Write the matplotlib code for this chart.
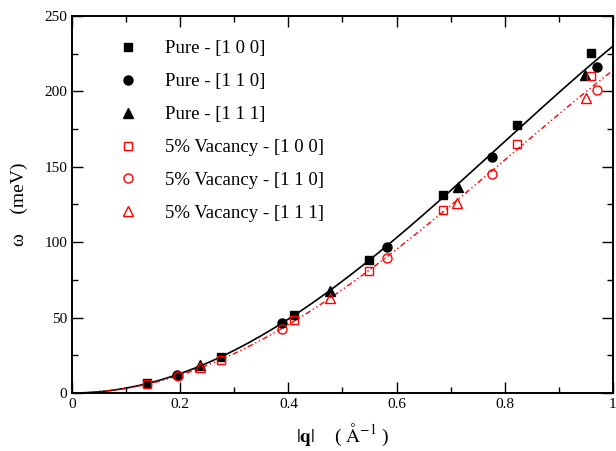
import numpy as np
import matplotlib
matplotlib.use('Agg')
import matplotlib.pyplot as plt

plt.rcParams['font.family'] = ['Liberation Serif', 'DejaVu Serif']
plt.rcParams['mathtext.fontset'] = 'stix'

# Pure sample
q_pure_100 = [0.138, 0.275, 0.410, 0.549, 0.686, 0.823, 0.959]
w_pure_100 = [6.5, 24.1, 51.9, 88.2, 131.0, 177.6, 225.5]
q_pure_110 = [0.194, 0.388, 0.582, 0.776, 0.970]
w_pure_110 = [11.8, 46.2, 96.6, 156.5, 216.4]
q_pure_111 = [0.237, 0.476, 0.713, 0.949]
w_pure_111 = [18.5, 67.9, 136.8, 210.9]

# 5% vacancy sample
q_vac_100 = [0.138, 0.275, 0.410, 0.549, 0.686, 0.823, 0.959]
w_vac_100 = [6.0, 21.9, 48.4, 81.1, 121.4, 164.9, 210.2]
q_vac_110 = [0.195, 0.388, 0.582, 0.776, 0.970]
w_vac_110 = [11.3, 42.7, 89.3, 145.1, 200.9]
q_vac_111 = [0.237, 0.476, 0.712, 0.950]
w_vac_111 = [17.5, 62.8, 126.2, 195.8]

xticks = [0, 0.2, 0.4, 0.6, 0.8, 1.0]
xticklabels = ['0', '0.2', '0.4', '0.6', '0.8', '1']
yticks = [0, 50, 100, 150, 200, 250]


def fit_curve(qs, ws, qline):
    # least squares fit w = a q^2 + b q^3 + c q^4
    q = np.array(qs)
    A = np.column_stack([q**2, q**3, q**4])
    coef = np.linalg.lstsq(A, np.array(ws), rcond=None)[0]
    return coef[0]*qline**2 + coef[1]*qline**3 + coef[2]*qline**4


fig = plt.figure(figsize=(6.16, 4.51), dpi=100)
ax = fig.add_axes([0.117, 0.1286, 0.878, 0.836])

qline = np.linspace(0, 1.0, 200)
pure_q = q_pure_100 + q_pure_110 + q_pure_111
pure_w = w_pure_100 + w_pure_110 + w_pure_111
vac_q = q_vac_100 + q_vac_110 + q_vac_111
vac_w = w_vac_100 + w_vac_110 + w_vac_111
ax.plot(qline, fit_curve(pure_q, pure_w, qline), color='black', lw=1.2, zorder=1)
ax.plot(qline, fit_curve(vac_q, vac_w, qline), color='red', lw=1.0,
        dashes=[4, 2, 1, 2, 1, 2], zorder=1)

ms = 6
ax.plot(q_pure_100, w_pure_100, 's', color='black', ms=ms-0.5, ls='none', label='Pure - [1 0 0]')
ax.plot(q_pure_110, w_pure_110, 'o', color='black', ms=ms+0.5, ls='none', label='Pure - [1 1 0]')
ax.plot(q_pure_111, w_pure_111, '^', color='black', ms=ms+0.5, ls='none', label='Pure - [1 1 1]')
ax.plot(q_vac_100, w_vac_100, 's', mfc='none', mec='red', ms=ms-0.5, mew=1.0, ls='none',
        label='5% Vacancy - [1 0 0]')
ax.plot(q_vac_110, w_vac_110, 'o', mfc='none', mec='red', ms=ms+0.5, mew=1.0, ls='none',
        label='5% Vacancy - [1 1 0]')
ax.plot(q_vac_111, w_vac_111, '^', mfc='none', mec='red', ms=ms+0.5, mew=1.0, ls='none',
        label='5% Vacancy - [1 1 1]')

ax.set_xlim(0, 1)
ax.set_ylim(0, 250)
ax.set_xticks(xticks)
ax.set_xticklabels(xticklabels)
ax.set_yticks(yticks)
ax.set_xticks(np.arange(0.1, 1.0, 0.2), minor=True)
ax.set_yticks(np.arange(25, 250, 50), minor=True)
ax.tick_params(which='both', direction='in', top=True, right=True, labelsize=11)
ax.tick_params(which='major', length=8, width=1.0)
ax.tick_params(which='minor', length=4, width=1.0)
for s in ax.spines.values():
    s.set_linewidth(1.4)

ax.set_xlabel(r'$|\mathbf{q}|$    ( $\mathrm{\AA}^{-1}$ )', fontsize=14, labelpad=8)
ax.set_ylabel('ω    (meV)', fontsize=14, labelpad=12)

ax.legend(loc='upper left', frameon=False, fontsize=13.5, handletextpad=1.2,
          labelspacing=0.84, borderaxespad=0.6, bbox_to_anchor=(0.043, 0.985),
          numpoints=1, handlelength=1.5)

fig.savefig('out.png', dpi=100)
